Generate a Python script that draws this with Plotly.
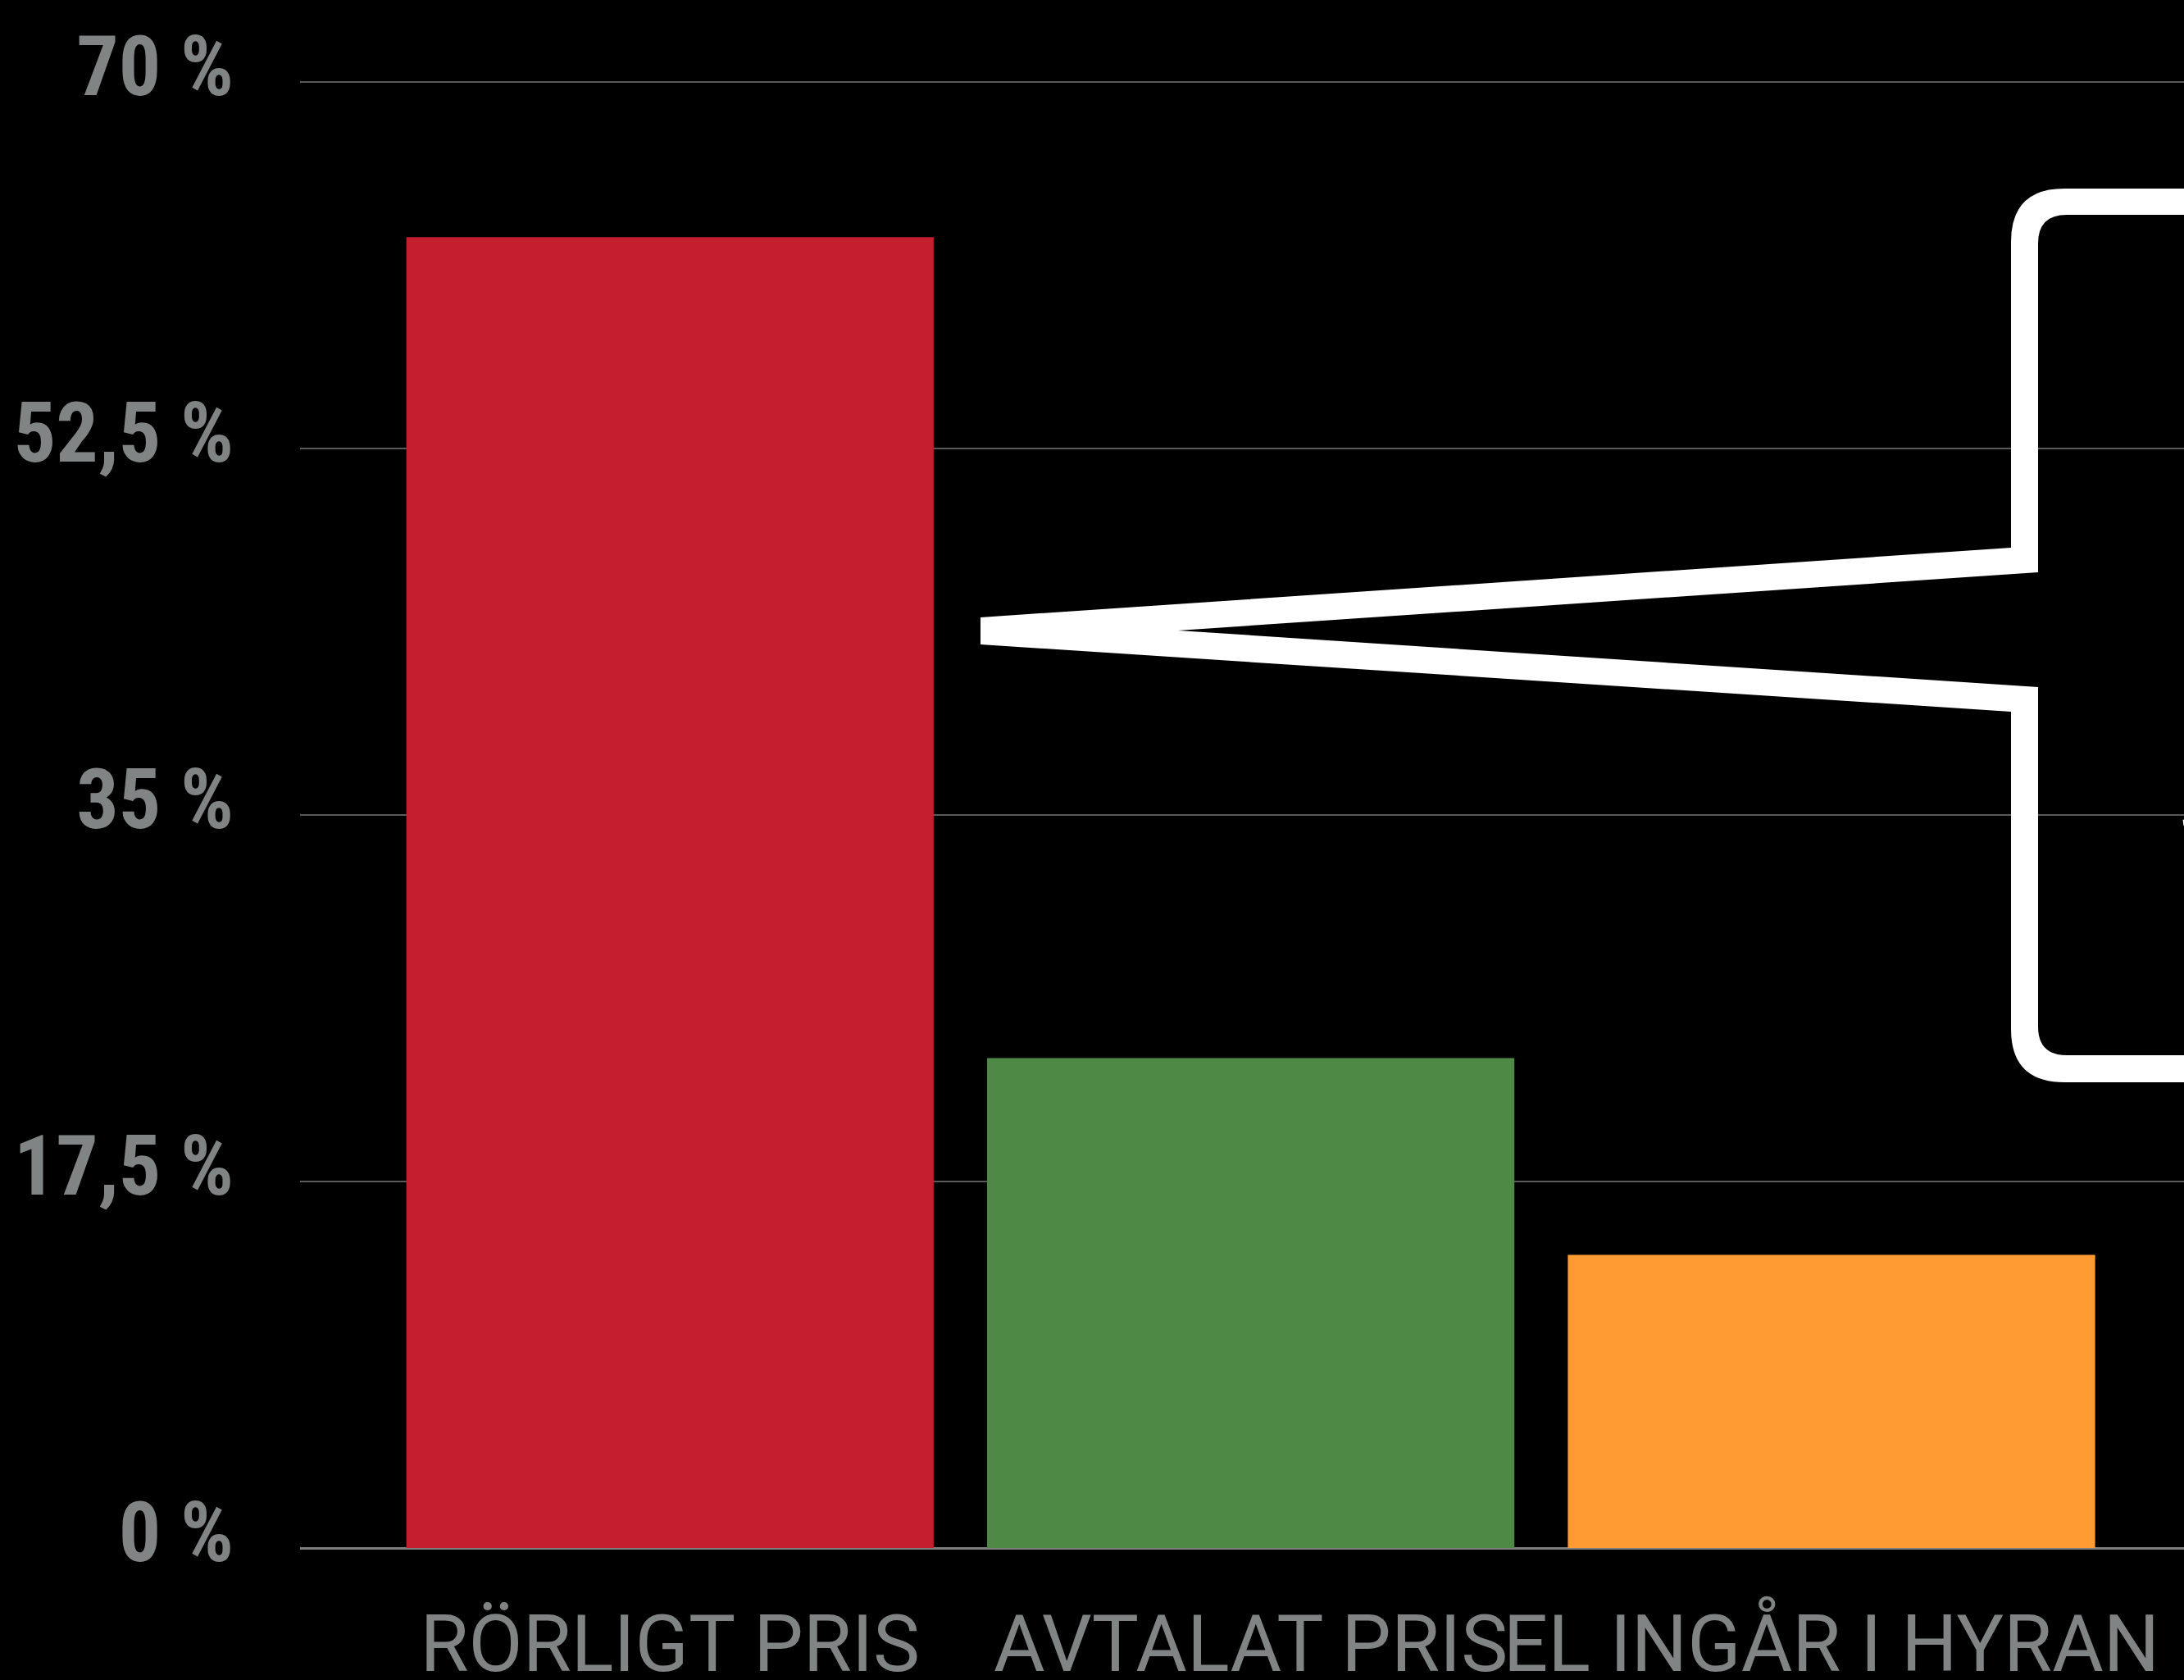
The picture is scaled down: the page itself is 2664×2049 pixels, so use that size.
import plotly.graph_objects as go

# ---- data ----
categories = ["RÖRLIGT PRIS", "AVTALAT PRIS", "EL INGÅR I HYRAN"]
values = [62.6, 23.4, 14.0]
bar_colors = ["#C41E2F", "#4E8A45", "#FE9C33"]
y_tickvals = [0, 17.5, 35, 52.5, 70]
y_ticktext = ["0 %", "17,5 %", "35 %", "52,5 %", "70 %"]

# ---- layout geometry ----
W, H = 2664, 2049
ML, MR, MT, MB = 366, 0, 99, 161
PL, PR, PT, PB = ML, W - MR, MT, H - MB


def px(x):
    return (x - PL) / (PR - PL)


def py(y):
    return (PB - y) / (PB - PT)


def path_from(points):
    parts = []
    for cmd, *coords in points:
        if cmd in ("M", "L"):
            parts.append(f"{cmd}{px(coords[0]):.5f},{py(coords[1]):.5f}")
        elif cmd == "Q":
            parts.append(
                f"Q{px(coords[0]):.5f},{py(coords[1]):.5f} {px(coords[2]):.5f},{py(coords[3]):.5f}"
            )
        elif cmd == "Z":
            parts.append("Z")
    return " ".join(parts)


outer = [
    ("M", 2518, 230), ("L", 2800, 230), ("L", 2800, 1320), ("L", 2518, 1320),
    ("Q", 2453, 1320, 2453, 1255), ("L", 2453, 868), ("L", 1196, 786),
    ("L", 1196, 753), ("L", 2453, 668), ("L", 2453, 295),
    ("Q", 2453, 230, 2518, 230), ("Z",),
]
inner = [
    ("M", 2521, 262), ("Q", 2486, 262, 2486, 297), ("L", 2486, 698),
    ("L", 1437, 769), ("L", 2486, 838), ("L", 2486, 1252),
    ("Q", 2486, 1287, 2521, 1287), ("L", 2780, 1287), ("L", 2780, 262), ("Z",),
]
callout_path = path_from(outer) + " " + path_from(inner)

fig = go.Figure()
fig.add_trace(
    go.Bar(
        x=categories,
        y=values,
        marker=dict(color=bar_colors, line=dict(width=0)),
        hoverinfo="skip",
    )
)

fig.add_shape(
    type="path",
    path=callout_path,
    xref="paper",
    yref="paper",
    fillcolor="white",
    line=dict(width=0),
    layer="above",
)

fig.add_annotation(
    text="S",
    xref="paper",
    yref="paper",
    x=px(2656),
    y=py(984),
    xanchor="left",
    yanchor="middle",
    showarrow=False,
    font=dict(family="Roboto", size=116, color="white"),
)

fig.update_layout(
    template="none",
    width=W,
    height=H,
    margin=dict(l=ML, r=MR, t=MT, b=MB, pad=0),
    paper_bgcolor="black",
    plot_bgcolor="black",
    showlegend=False,
    bargap=0.092,
    xaxis=dict(
        range=[-0.637, 2.607],
        automargin=False,
        showgrid=False,
        showline=False,
        ticks="",
        tickangle=0,
        tickfont=dict(family="Roboto", size=96, color="#808485"),
        ticklabelstandoff=53,
    ),
    yaxis=dict(
        range=[0, 70.05],
        automargin=False,
        tickvals=y_tickvals,
        ticktext=y_ticktext,
        showgrid=True,
        gridcolor="#5a5a5a",
        gridwidth=2,
        zeroline=True,
        zerolinecolor="#7f7f7f",
        zerolinewidth=3,
        showline=False,
        ticks="",
        tickfont=dict(family="Roboto Condensed, Roboto, sans-serif", size=102,
                      color="#808485", weight="bold"),
        ticklabelstandoff=80,
        ticklabelshift=-20,
    ),
)

fig.write_html(
    "out.html",
    config={"displayModeBar": False},
    post_script="document.body.style.margin='0';document.body.style.background='black';",
)
